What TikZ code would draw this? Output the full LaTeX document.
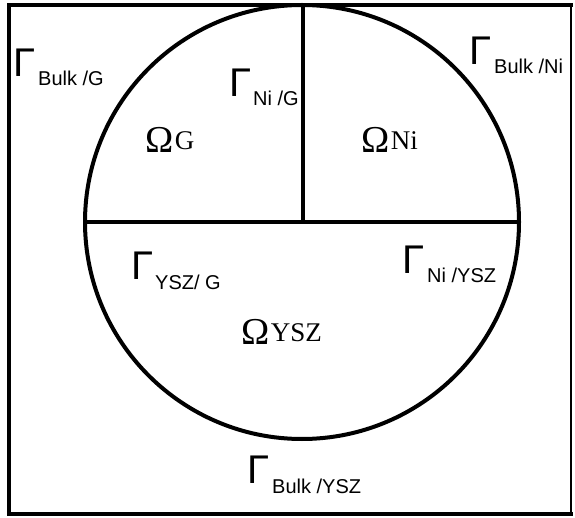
\documentclass[tikz,border=0pt]{standalone}
\usepackage{fontspec}
\setmainfont{Liberation Serif}
\newfontfamily\arialf{Liberation Sans}
\begin{document}
\begin{tikzpicture}[x=1pt,y=-1pt,
  lab/.style={inner sep=0pt,anchor=base west},
  gam/.style={lab,font=\arialf\fontsize{40}{40}\selectfont},
  gsub/.style={lab,font=\arialf\fontsize{20}{20}\selectfont},
  om/.style={lab,font=\fontsize{38}{38}\selectfont},
  osub/.style={lab,font=\fontsize{27}{27}\selectfont},
  bord/.style={line width=4.5pt},
  rim/.style={line width=4pt},
  part/.style={line width=3.5pt}]
\useasboundingbox (0,0) rectangle (575,518);
\coordinate (b1) at (9,5);
\coordinate (b2) at (571,5);
\coordinate (b3) at (571,514);
\coordinate (b4) at (9,514);
\draw[bord,line cap=rect] (b2) -- (b1) -- (b4) -- (b3);
\draw[line width=2.5pt,line cap=rect] (b2) -- (b3);
\coordinate (c) at (302,222);
\draw[rim] (c) circle[radius=217];
\coordinate (l) at (85,222);
\coordinate (r) at (519,222);
\coordinate (t) at (303,5);
\coordinate (m) at (303,222);
\draw[part] (l) -- (r);
\draw[part] (t) -- (m);
% Gamma labels
\node[gam] (g1) at (13,77) {Γ};
\node[gsub] (s1) at (38,86) {Bulk /G};
\node[gam] (g2) at (469,65) {Γ};
\node[gsub] (s2) at (494,74) {Bulk /Ni};
\node[gam] (g3) at (229,97) {Γ};
\node[gsub] (s3) at (253,106) {Ni /G};
\node[gam] (g4) at (131,280) {Γ};
\node[gsub] (s4) at (155,290) {YSZ/ G};
\node[gam] (g5) at (402,274) {Γ};
\node[gsub] (s5) at (427,283) {Ni /YSZ};
\node[gam] (g6) at (247,483) {Γ};
\node[gsub] (s6) at (272,493) {Bulk /YSZ};
% Omega labels
\node[om] (o1) at (145,153) {Ω};
\node[osub] (p1) at ([xshift=1pt,yshift=3pt]o1.base east) {G};
\node[om] (o2) at (361,153) {Ω};
\node[osub] (p2) at ([xshift=1pt,yshift=3pt]o2.base east) {Ni};
\node[om] (o3) at (241,344) {Ω};
\node[osub] (p3) at ([xshift=1pt,yshift=3pt]o3.base east) {YSZ};
\end{tikzpicture}
\end{document}
